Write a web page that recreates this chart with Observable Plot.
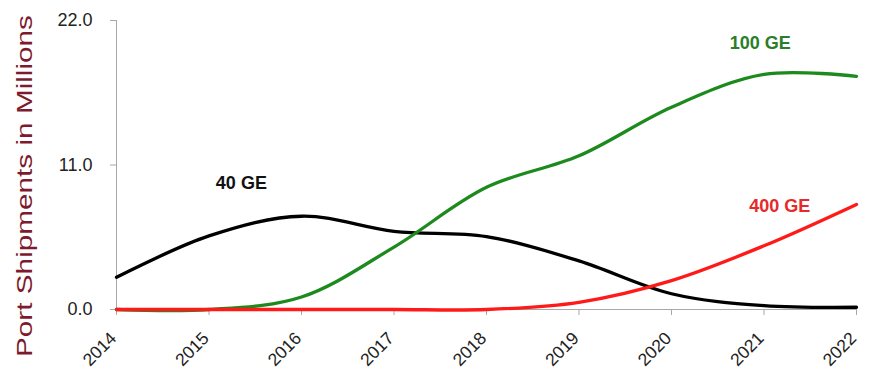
<!DOCTYPE html>
<html><head><meta charset="utf-8">
<script src="https://cdn.jsdelivr.net/npm/d3@7"></script>
<script src="https://cdn.jsdelivr.net/npm/@observablehq/plot@0.6"></script>
<style>
body{margin:0;background:#fff;}
svg{font-family:"Liberation Sans",Arial,sans-serif;}
</style>
</head><body><div id="chart"></div>
<script>
const years = [2014, 2015, 2016, 2017, 2018, 2019, 2020, 2021, 2022];
const ge40  = [2.45, 5.6, 7.1, 5.95, 5.55, 3.7, 1.2, 0.3, 0.17];
const ge100 = [0, 0, 0.95, 4.75, 9.3, 11.7, 15.4, 17.9, 17.75];
const ge400 = [0, 0, 0, 0, 0, 0.55, 2.2, 4.85, 8.0];
const yTicks = [0, 11, 22];
const seriesNames = ["40 GE", "100 GE", "400 GE"];
const labelX = [2015.35, 2020.96, 2021.17];
const labelY = [9.6, 20.25, 7.88];
const yLabel = "Port Shipments in Millions";

const lineColors = ["#000000", "#1c8a1c", "#ff1a1a"];
const labelColors = ["#111111", "#2a7d2a", "#e62a2a"];

const rows = (vals) => years.map((y, i) => ({year: y, value: vals[i]}));
const labels = seriesNames.map((s, i) => ({name: s, x: labelX[i], y: labelY[i], color: labelColors[i]}));
const axisColor = "#a8a8a8";

const svg = Plot.plot({
  width: 869,
  height: 376,
  marginLeft: 116,
  marginRight: 13,
  marginTop: 20,
  marginBottom: 67,
  x: {domain: [2014, 2022]},
  y: {domain: [0, 22]},
  style: {fontFamily: '"Liberation Sans", Arial, sans-serif', background: "white"},
  marks: [
    Plot.ruleX([2014], {stroke: axisColor}),
    Plot.ruleY([0], {stroke: axisColor}),
    Plot.axisY(yTicks, {tickFormat: d => d.toFixed(1), tickSize: 6, tickPadding: 18, fontSize: 18, stroke: axisColor, fill: "#222", label: null}),
    Plot.axisX(years, {text: null, tickSize: 6, stroke: axisColor, label: null}),
    Plot.axisX(years, {tickFormat: d => String(d), tickRotate: -45, tickSize: 0, tickPadding: 26, dx: -3, fontSize: 17.5, fill: "#222", label: null}),
    Plot.line(rows(ge40), {x: "year", y: "value", stroke: lineColors[0], strokeWidth: 3.3, curve: "catmull-rom"}),
    Plot.line(rows(ge100), {x: "year", y: "value", stroke: lineColors[1], strokeWidth: 3.3, curve: "catmull-rom"}),
    Plot.line(rows(ge400), {x: "year", y: "value", stroke: lineColors[2], strokeWidth: 3.3, curve: "catmull-rom"}),
    Plot.text(labels, {x: "x", y: "y", text: "name", fill: "color", fontSize: 18, fontWeight: "bold"}),
    Plot.text([yLabel], {frameAnchor: "left", rotate: -90, textAnchor: "start", dx: -92, dy: 192, fontSize: 22, fill: "#7d1a2e"})
  ]
});

d3.select(svg).selectAll("text")
  .filter(function() { return this.textContent === yLabel; })
  .attr("textLength", 342)
  .attr("lengthAdjust", "spacingAndGlyphs");

document.getElementById("chart").appendChild(svg);
</script>
</body></html>
